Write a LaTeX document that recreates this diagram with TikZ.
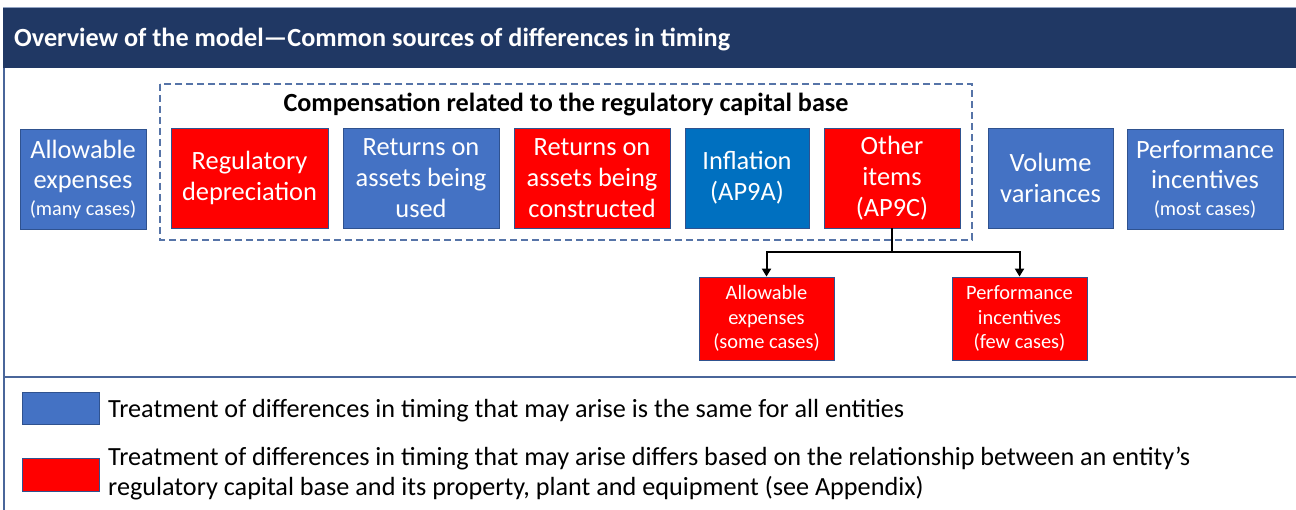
\documentclass[tikz,border=0pt]{standalone}
\usepackage{fontspec}
\setmainfont{Carlito}
\usetikzlibrary{arrows.meta}
\definecolor{hdr}{HTML}{203864}
\definecolor{bblue}{HTML}{4472C4}
\definecolor{iblue}{HTML}{0070C0}
\definecolor{bred}{HTML}{FF0000}
\definecolor{edgecol}{HTML}{2F528F}
\definecolor{framecol}{HTML}{4A669A}
\definecolor{dashcol}{HTML}{5674A8}
\tikzset{
  box/.style={draw=edgecol, line width=0.8pt, text=white, align=center, inner sep=0pt,
    font=\fontsize{26.4}{31}\selectfont, minimum height=100pt},
  bluebox/.style={box, fill=bblue},
  redbox/.style={box, fill=bred},
  smallbox/.style={draw=edgecol, line width=0.8pt, fill=bred, text=white, align=center, inner sep=0pt,
    font=\fontsize{20.4}{24.5}\selectfont, minimum width=135pt, minimum height=83pt},
  conn/.style={line width=2pt, black},
  arr/.style={conn, -{Triangle[length=8pt,width=9pt]}},
  legtext/.style={anchor=west, align=left, inner sep=0pt, font=\fontsize{26.2}{30}\selectfont}
}
\newcommand{\sm}[1]{{\fontsize{20.3}{22}\selectfont #1}}
\begin{document}
\begin{tikzpicture}[x=1pt,y=-1pt]
\useasboundingbox (0,0) rectangle (1296,510);
\fill[white] (0,0) rectangle (1296,510);
% frame
\draw[framecol, line width=1.5pt] (4,8) -- (4,510);
\fill[hdr] (3,8) rectangle (1296,68);
\draw[color=framecol!60, line width=1pt] (3,8) -- (1296,8);
\draw[framecol, line width=2pt] (4,377) -- (1296,377);
\node[anchor=west, text=white, inner sep=0pt, font=\bfseries\fontsize{26.2}{30}\selectfont] (title) at (14,39.5) {Overview of the model—Common sources of differences in timing};
% dashed group
\draw[dashcol, line width=2pt, dash pattern=on 7pt off 4pt] (160,84) rectangle (972,240);
\node[inner sep=0pt, font=\bfseries\fontsize{26.2}{30}\selectfont] (grp) at (566,104.5) {Compensation related to the regulatory capital base};
% top row
\node[bluebox, minimum width=126pt] (a1) at (83,179.5) {Allowable\\[-0.5pt]expenses\\[-4pt]\sm{(many cases)}};
\node[redbox, minimum width=157pt] (a2) at (249.5,178) {Regulatory\\depreciation};
\node[bluebox, minimum width=156pt] (a3) at (421,178) {Returns on\\assets being\\used};
\node[redbox, minimum width=156pt] (a4) at (592,178) {Returns on\\assets being\\constructed};
\node[box, fill=iblue, minimum width=124pt] (a5) at (747,178) {Inflation\\(AP9A)};
\node[redbox, minimum width=136pt] (a6) at (892,178) {Other\\items\\(AP9C)};
\node[bluebox, minimum width=125pt] (a7) at (1050.5,178) {Volume\\variances};
\node[bluebox, minimum width=156pt] (a8) at (1205,179.5) {Performance\\[-0.5pt]incentives\\[-4pt]\sm{(most cases)}};
% bottom boxes
\node[smallbox] (b1) at (766.5,318.5) {Allowable\\expenses\\(some cases)};
\node[smallbox] (b2) at (1019.5,318.5) {Performance\\incentives\\(few cases)};
% connectors
\coordinate (j) at (892,252);
\draw[conn] (a6.south) -- (j);
\draw[arr] (j) -| (b1.north);
\draw[arr] (j) -| (b2.north);
% legend
\node[draw=edgecol, line width=0.8pt, fill=bblue, minimum width=77pt, minimum height=32pt, inner sep=0pt] (lb) at (60.5,408) {};
\node[draw=edgecol, line width=0.8pt, fill=bred, minimum width=77pt, minimum height=33pt, inner sep=0pt] (lr) at (60.5,474.5) {};
\node[legtext] (t1) at (108,410.5) {Treatment of differences in timing that may arise is the same for all entities};
\node[legtext] (t2) at (108,473.5) {Treatment of differences in timing that may arise differs based on the relationship between an entity’s\\regulatory capital base and its property, plant and equipment (see Appendix)};
\end{tikzpicture}
\end{document}
